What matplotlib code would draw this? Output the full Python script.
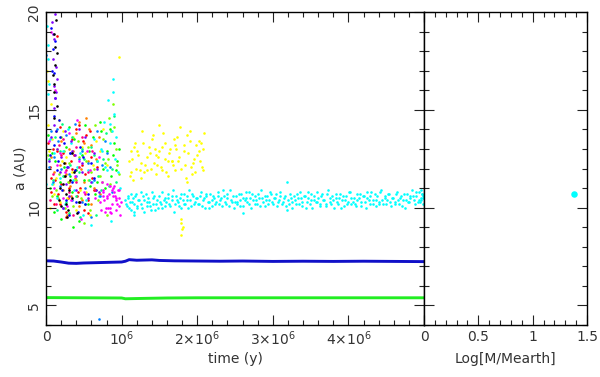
import matplotlib
matplotlib.use("Agg")
import matplotlib.pyplot as plt
from matplotlib.ticker import MultipleLocator, FixedLocator

# time in Myr, a in AU
blue_t = [0, 0.1, 0.2, 0.3, 0.4, 0.5, 0.6, 0.7, 0.8, 0.9, 1.0, 1.05, 1.1, 1.2, 1.3, 1.4, 1.5, 1.7,
          2.0, 2.3, 2.6, 3.0, 3.4, 3.8, 4.2, 4.6, 5.0]
blue_a = [7.28, 7.27, 7.22, 7.16, 7.15, 7.17, 7.18, 7.19, 7.2, 7.21, 7.22, 7.26, 7.34, 7.31, 7.32,
          7.33, 7.3, 7.28, 7.27, 7.26, 7.27, 7.25, 7.26, 7.25, 7.26, 7.25, 7.24]
green_t = [0, 0.5, 1.0, 1.05, 1.3, 1.6, 2.0, 3.0, 4.0, 5.0]
green_a = [5.40, 5.39, 5.38, 5.34, 5.36, 5.38, 5.39, 5.39, 5.39, 5.39]

band_t = [1.05, 1.07, 1.09, 1.11, 1.13, 1.15, 1.17, 1.19, 1.21, 1.23,
          1.26, 1.28, 1.30, 1.33, 1.35, 1.37, 1.40, 1.42, 1.44, 1.47,
          1.49, 1.52, 1.54, 1.57, 1.59, 1.62, 1.64, 1.67, 1.69, 1.72,
          1.74, 1.77, 1.79, 1.82, 1.84, 1.87, 1.89, 1.92, 1.94, 1.97,
          2.00, 2.02, 2.05, 2.07, 2.10, 2.12, 2.15, 2.17, 2.20, 2.22,
          2.25, 2.28, 2.30, 2.33, 2.35, 2.38, 2.40, 2.43, 2.46, 2.48,
          2.51, 2.53, 2.56, 2.58, 2.61, 2.64, 2.66, 2.69, 2.71, 2.74,
          2.77, 2.79, 2.82, 2.84, 2.87, 2.90, 2.92, 2.95, 2.97, 3.00,
          3.03, 3.05, 3.08, 3.10, 3.13, 3.16, 3.19, 3.21, 3.24, 3.26,
          3.29, 3.32, 3.34, 3.37, 3.39, 3.42, 3.45, 3.47, 3.50, 3.52,
          3.55, 3.58, 3.60, 3.63, 3.65, 3.68, 3.71, 3.73, 3.76, 3.78,
          3.81, 3.84, 3.86, 3.89, 3.91, 3.94, 3.97, 3.99, 4.02, 4.04,
          4.07, 4.10, 4.12, 4.15, 4.17, 4.20, 4.23, 4.25, 4.28, 4.30,
          4.33, 4.36, 4.38, 4.41, 4.43, 4.46, 4.49, 4.51, 4.54, 4.56,
          4.59, 4.62, 4.64, 4.67, 4.69, 4.72, 4.75, 4.77, 4.80, 4.82,
          4.85, 4.88, 4.90, 4.93, 4.95, 4.97, 4.99, 1.16, 2.61, 3.19,
          1.06, 1.08, 1.10, 1.12, 1.14, 1.16, 1.18, 1.20, 1.22, 1.25,
          1.27, 1.29, 1.32, 1.34, 1.36, 1.39, 1.41, 1.43, 1.46, 1.48,
          1.51, 1.53, 1.56, 1.58, 1.61, 1.63, 1.66, 1.68, 1.71, 1.73,
          1.76, 1.78, 1.81, 1.83, 1.86, 1.88, 1.91, 1.93, 1.96, 1.99,
          2.01, 2.04, 2.06, 2.09, 2.11, 2.14, 2.16, 2.19, 2.21, 2.24,
          2.27, 2.29, 2.32, 2.34, 2.37, 2.39, 2.42, 2.45, 2.47, 2.50,
          2.52, 2.55, 2.57, 2.60, 2.63, 2.65, 2.68, 2.70, 2.73, 2.76,
          2.78, 2.81, 2.83, 2.86, 2.89, 2.91, 2.94, 2.96, 2.99, 3.02,
          3.04, 3.07, 3.09, 3.12, 3.15, 3.17, 3.20, 3.23, 3.25, 3.28,
          3.31, 3.33, 3.36, 3.38, 3.41, 3.44, 3.46, 3.49, 3.51, 3.54,
          3.57, 3.59, 3.62, 3.64, 3.67, 3.70, 3.72, 3.75, 3.77, 3.80,
          3.83, 3.85, 3.88, 3.90, 3.93, 3.96, 3.98, 4.01, 4.03, 4.06,
          4.09, 4.11, 4.14, 4.16, 4.19, 4.22, 4.24, 4.27, 4.29, 4.32,
          4.35, 4.37, 4.40, 4.42, 4.45, 4.48, 4.50, 4.53, 4.55, 4.58,
          4.61, 4.63, 4.66, 4.68, 4.71, 4.74, 4.76, 4.79, 4.81, 4.84,
          4.87, 4.89, 4.92, 4.94, 4.96, 4.98, 4.985, 4.975, 4.965, 4.955]
band_a = [10.4, 10.1, 10.6, 10.3, 9.9, 10.5, 10.2, 10.7, 10.0, 10.4,
          10.2, 10.6, 9.8, 10.3, 10.5, 10.1, 10.8, 10.2, 9.9, 10.4,
          10.6, 10.2, 10.0, 10.5, 10.3, 10.7, 10.1, 10.4, 9.8, 10.6,
          10.3, 10.5, 10.0, 10.7, 10.2, 10.4, 10.9, 10.1, 10.6, 10.3,
          10.5, 10.2, 10.8, 10.4, 10.0, 10.6, 10.3, 10.7, 10.1, 10.5,
          10.3, 10.8, 10.4, 10.1, 10.6, 10.2, 10.5, 10.9, 10.3, 10.0,
          10.6, 10.2, 10.4, 10.7, 10.1, 10.5, 10.3, 10.8, 10.0, 10.4,
          10.6, 10.2, 10.5, 10.9, 10.3, 10.1, 10.6, 10.4, 10.7, 10.2,
          10.5, 10.1, 10.4, 10.8, 10.3, 10.6, 11.3, 10.2, 10.5, 10.0,
          10.4, 10.7, 10.2, 10.5, 10.1, 10.6, 10.3, 10.8, 10.4, 10.0,
          10.6, 10.3, 10.5, 10.1, 10.7, 10.4, 10.2, 10.9, 10.3, 10.6,
          10.0, 10.5, 10.2, 10.7, 10.4, 10.1, 10.6, 10.3, 10.8, 10.2,
          10.5, 10.1, 10.4, 10.7, 10.3, 10.6, 10.0, 10.5, 10.2, 10.8,
          10.4, 10.1, 10.6, 10.3, 10.9, 10.2, 10.5, 10.4, 10.7, 10.1,
          10.5, 10.3, 10.8, 10.2, 10.6, 10.4, 10.0, 10.7, 10.3, 10.5,
          10.6, 10.2, 10.8, 10.4, 10.3, 10.7, 10.5, 9.6, 9.7, 9.9,
          10.2, 10.5, 10.0, 10.7, 10.3, 9.8, 10.6, 10.1, 10.4, 10.8,
          10.0, 10.4, 10.7, 10.1, 10.3, 9.9, 10.5, 10.6, 10.2, 10.0,
          10.3, 10.8, 10.4, 10.1, 10.5, 10.2, 10.6, 10.9, 10.2, 10.4,
          10.1, 10.7, 10.4, 10.2, 10.6, 10.0, 10.4, 10.7, 10.2, 10.5,
          10.2, 10.6, 10.1, 10.5, 10.7, 10.3, 10.0, 10.4, 10.6, 10.2,
          10.6, 10.2, 10.5, 10.9, 10.3, 10.7, 10.1, 10.4, 10.6, 10.3,
          10.3, 10.7, 10.1, 10.5, 10.4, 10.8, 10.2, 10.5, 10.7, 10.2,
          10.4, 10.7, 10.1, 10.5, 10.6, 10.4, 10.2, 10.8, 10.3, 10.5,
          10.7, 10.3, 10.6, 10.2, 10.5, 10.1, 10.4, 10.7, 10.3, 10.6,
          10.2, 10.5, 10.8, 10.3, 10.6, 10.0, 10.5, 10.2, 10.7, 10.4,
          10.3, 10.8, 10.2, 10.6, 10.4, 10.1, 10.7, 10.5, 10.2, 10.4,
          10.7, 10.3, 10.5, 10.0, 10.6, 10.4, 10.2, 10.8, 10.5, 10.3,
          10.2, 10.7, 10.5, 10.1, 10.6, 10.3, 10.8, 10.4, 10.6, 10.2,
          10.7, 10.4, 10.2, 10.8, 10.4, 10.6, 10.2, 10.7, 10.3, 10.5,
          10.2, 10.7, 10.4, 10.5, 10.1, 10.7, 10.4, 10.3, 10.6, 10.9,
          10.4, 10.6, 10.3, 10.8, 10.5, 10.6, 10.2, 10.7, 10.4, 10.9]

ycl_t = [1.10, 1.13, 1.16, 1.19, 1.22, 1.25, 1.28, 1.31, 1.34, 1.37,
         1.40, 1.43, 1.46, 1.49, 1.52, 1.55, 1.58, 1.61, 1.64, 1.67,
         1.70, 1.73, 1.76, 1.79, 1.82, 1.85, 1.88, 1.91, 1.94, 1.97,
         2.00, 2.03, 2.06, 2.09, 1.12, 1.18, 1.24, 1.33, 1.41, 1.47,
         1.53, 1.59, 1.66, 1.72, 1.77, 1.84, 1.90, 1.96, 2.02, 2.07,
         1.79, 1.80, 1.78, 1.81, 1.79, 0.97, 1.15, 1.50, 1.87, 2.05,
         1.11, 1.14, 1.20, 1.26, 1.30, 1.36, 1.39, 1.44, 1.48, 1.54,
         1.57, 1.63, 1.68, 1.71, 1.75, 1.83, 1.86, 1.92, 1.98, 2.04,
         2.08, 1.27, 1.45, 1.62, 1.69, 1.93]
ycl_a = [12.4, 11.8, 13.1, 12.0, 12.7, 11.5, 13.3, 12.2, 11.9, 12.8,
         13.5, 12.3, 11.7, 12.9, 12.1, 13.8, 12.5, 11.6, 13.0, 12.4,
         11.9, 13.6, 12.6, 12.0, 13.2, 11.5, 12.8, 13.9, 12.3, 11.8,
         12.7, 13.4, 12.1, 13.8, 12.9, 13.3, 11.9, 12.6, 13.7, 12.2,
         13.1, 11.8, 12.4, 13.0, 14.1, 12.2, 13.4, 12.5, 12.9, 11.9,
         9.2, 8.9, 8.6, 9.0, 9.4, 17.7, 11.4, 14.2, 11.3, 13.3,
         11.6, 12.5, 12.9, 12.3, 11.8, 13.1, 12.0, 13.0, 12.6, 11.9,
         13.3, 12.8, 12.2, 13.2, 12.4, 12.9, 13.7, 12.1, 13.2, 12.4,
         13.0, 13.9, 12.7, 12.4, 13.5, 11.7]

red_t = [0.05, 0.12, 0.18, 0.22, 0.3, 0.35, 0.41, 0.47, 0.52, 0.58, 0.63, 0.09, 0.15, 0.27, 0.38, 0.44,
         0.55, 0.6, 0.33, 0.2, 0.07, 0.5,
         0.03, 0.14, 0.24, 0.29, 0.37, 0.45, 0.49, 0.56, 0.61, 0.68, 0.11, 0.19, 0.26, 0.34, 0.42, 0.53,
         0.07, 0.31, 0.4, 0.16]
red_a = [12.1, 11.4, 10.2, 12.8, 11.0, 13.5, 10.6, 12.2, 11.7, 13.9, 10.9, 13.0, 18.8, 9.8, 11.9, 14.2,
         10.4, 12.6, 12.4, 11.2, 10.8, 9.9,
         13.3, 12.9, 11.6, 10.5, 12.7, 11.0, 13.4, 9.7, 11.5, 12.1, 10.2, 14.1, 9.5, 12.0, 10.8, 13.7,
         11.5, 11.3, 14.0, 10.7]
orange_t = [0.1, 0.16, 0.25, 0.32, 0.4, 0.46, 0.53, 0.6, 0.66, 0.72, 0.28, 0.36, 0.5, 0.57, 0.2, 0.43,
            0.06, 0.13, 0.22, 0.3, 0.38, 0.48, 0.55, 0.63, 0.7, 0.18, 0.33, 0.44, 0.59, 0.26, 0.5]
orange_a = [11.8, 10.5, 12.3, 11.1, 13.8, 12.0, 14.6, 13.2, 12.5, 10.7, 9.6, 12.9, 11.3, 14.0, 13.4, 10.1,
            12.6, 13.9, 10.9, 13.0, 11.5, 10.4, 12.4, 11.0, 13.6, 12.2, 10.6, 14.4, 10.2, 11.7, 13.3]
yellow_t = [0.02, 0.04, 0.08, 0.13, 0.19, 0.26, 0.31, 0.37, 0.45, 0.51, 0.03, 0.06, 0.23, 0.34, 0.48,
            0.62, 0.7, 0.76, 0.01, 0.11,
            0.09, 0.15, 0.21, 0.28, 0.36, 0.42, 0.55, 0.58, 0.66, 0.72, 0.8, 0.05, 0.17, 0.39, 0.53]
yellow_a = [14.2, 12.9, 13.5, 11.5, 10.3, 12.6, 9.7, 11.4, 10.9, 12.8, 16.5, 15.3, 13.9, 11.8, 13.1,
            12.2, 11.6, 14.0, 17.0, 10.7,
            11.2, 13.0, 12.4, 10.5, 13.6, 12.1, 11.4, 9.6, 13.4, 12.9, 12.2, 10.0, 14.5, 9.9, 10.8]
lime_t = [0.05, 0.12, 0.2, 0.27, 0.34, 0.4, 0.47, 0.55, 0.62, 0.68, 0.75, 0.81, 0.86, 0.9, 0.15, 0.3,
          0.44, 0.58, 0.71, 0.94, 0.02,
          0.08, 0.18, 0.24, 0.32, 0.37, 0.43, 0.5, 0.57, 0.65, 0.73, 0.78, 0.84, 0.88, 0.92, 0.96, 0.1,
          0.36, 0.52, 0.67]
lime_a = [11.0, 12.4, 9.4, 13.1, 10.8, 11.9, 12.7, 10.2, 13.6, 11.3, 12.0, 12.9, 11.6, 13.3, 10.6, 14.1,
          9.3, 11.1, 14.4, 12.4, 13.7,
          12.8, 11.3, 12.1, 11.6, 13.5, 10.3, 11.4, 12.9, 10.7, 13.9, 11.0, 14.0, 12.7, 11.9, 13.0, 9.8,
          9.0, 14.2, 12.4]
chart_t = [0.08, 0.17, 0.24, 0.36, 0.42, 0.5, 0.6, 0.69, 0.78, 0.83, 0.88, 0.92, 0.85, 0.8, 0.65, 0.29,
           0.53, 0.96,
           0.03, 0.13, 0.2, 0.31, 0.39, 0.46, 0.56, 0.63, 0.72, 0.76, 0.86, 0.9, 0.94, 0.82, 0.74, 0.58,
           0.44, 0.25]
chart_a = [10.6, 11.7, 12.9, 10.1, 13.4, 9.2, 11.8, 10.4, 12.3, 14.6, 15.3, 13.0, 11.2, 9.6, 14.2, 11.3,
           12.4, 11.7,
           12.7, 10.9, 13.6, 12.3, 11.4, 10.5, 13.1, 12.0, 11.6, 13.5, 13.9, 14.1, 12.2, 12.5, 11.3, 9.9,
           12.6, 10.0]
spring_t = [0.04, 0.14, 0.23, 0.32, 0.39, 0.48, 0.57, 0.64, 0.73, 0.79, 0.87, 0.93, 0.21, 0.45,
            0.09, 0.18, 0.27, 0.35, 0.43, 0.52, 0.6, 0.69, 0.76, 0.83, 0.9, 0.12, 0.3, 0.5, 0.66]
spring_a = [12.5, 9.9, 11.6, 12.2, 10.6, 13.0, 11.4, 12.7, 10.9, 13.8, 12.0, 11.3, 14.3, 9.5,
            11.4, 12.9, 10.3, 13.6, 11.8, 10.2, 13.1, 11.6, 12.5, 11.1, 14.7, 13.6, 9.7, 12.5, 9.6]
cyan_t = [0.01, 0.03, 0.1, 0.18, 0.25, 0.33, 0.41, 0.49, 0.56, 0.64, 0.7, 0.77, 0.84, 0.9, 0.95, 0.88,
          0.82, 0.91, 0.6, 0.37, 0.02, 0.0, 0.86, 0.74,
          0.05, 0.08, 0.14, 0.22, 0.29, 0.36, 0.45, 0.53, 0.61, 0.67, 0.73, 0.8, 0.87, 0.93, 0.02, 0.04,
          0.98, 0.89, 0.85, 0.78]
cyan_a = [19.3, 17.6, 12.8, 11.5, 10.2, 13.3, 12.1, 9.6, 11.9, 13.5, 10.6, 14.4, 13.3, 14.8, 11.8, 16.6,
          15.5, 12.5, 9.1, 10.9, 15.8, 11.2, 9.3, 12.9,
          13.5, 11.2, 10.5, 12.9, 14.0, 11.4, 12.8, 10.4, 11.3, 12.4, 13.0, 11.9, 13.9, 13.6, 18.3, 16.3,
          11.0, 15.9, 14.3, 12.1]
sky_t = [0.06, 0.11, 0.19, 0.26, 0.35, 0.43, 0.52, 0.59, 0.67, 0.74, 0.81, 0.87, 0.14, 0.3, 0.47, 0.7, 0.0,
         0.04, 0.09, 0.16, 0.23, 0.32, 0.4, 0.48, 0.55, 0.63, 0.71, 0.78, 0.84, 0.2, 0.38]
sky_a = [13.9, 12.6, 11.1, 13.7, 10.4, 12.5, 11.0, 9.5, 13.9, 12.2, 12.8, 10.8, 14.0, 11.7, 12.9, 4.3, 17.8,
         12.1, 11.3, 13.4, 10.0, 12.8, 11.6, 10.3, 12.3, 11.4, 10.6, 13.4, 12.1, 12.0, 14.3]
bl_t = [0.07, 0.09, 0.13, 0.1, 0.16, 0.21, 0.28, 0.35, 0.42, 0.49, 0.56, 0.63, 0.12, 0.11, 0.24, 0.39,
        0.05, 0.14, 0.19, 0.26, 0.32, 0.38, 0.45, 0.52, 0.59, 0.66, 0.1, 0.12, 0.08, 0.17, 0.3]
bl_a = [19.2, 18.1, 13.9, 14.7, 12.4, 10.9, 12.1, 11.3, 9.8, 12.6, 10.7, 11.5, 18.5, 13.2, 13.3, 10.3,
        12.7, 11.9, 13.6, 10.4, 12.8, 11.9, 13.1, 10.2, 12.3, 10.9, 16.9, 15.6, 17.0, 14.5, 9.6]
purple_t = [0.08, 0.11, 0.13, 0.1, 0.12, 0.09, 0.14, 0.11, 0.18, 0.25, 0.31, 0.38, 0.45, 0.52, 0.6, 0.67,
            0.22, 0.34, 0.48, 0.06,
            0.04, 0.1, 0.15, 0.2, 0.27, 0.33, 0.4, 0.47, 0.55, 0.63, 0.7, 0.12, 0.09, 0.13, 0.29, 0.43]
purple_a = [19.5, 18.6, 17.2, 16.2, 15.6, 17.6, 16.6, 15.1, 11.8, 13.9, 10.6, 12.7, 10.3, 13.6, 11.3, 12.0,
            10.0, 12.9, 11.8, 13.6,
            12.4, 14.2, 13.0, 12.6, 11.2, 13.4, 10.9, 12.3, 10.5, 12.8, 10.8, 19.9, 18.9, 15.9, 12.1, 14.0]
mag_t = [0.07, 0.14, 0.22, 0.3, 0.38, 0.46, 0.54, 0.12, 0.28, 0.41, 0.72, 0.75, 0.78, 0.81, 0.84, 0.87,
         0.9, 0.93, 0.96, 0.99, 0.74, 0.79, 0.83, 0.88, 0.92, 0.95, 0.77, 0.86, 0.8, 0.97, 0.73, 0.91,
         0.85, 0.76, 0.94,
         0.04, 0.1, 0.18, 0.25, 0.33, 0.43, 0.5, 0.58, 0.65, 0.7, 0.82, 0.89, 0.96, 0.98, 0.75, 0.87,
         0.93, 0.8, 0.84, 0.9]
mag_a = [19.0, 12.2, 10.5, 13.8, 11.6, 9.4, 12.9, 16.0, 10.1, 14.5, 10.3, 10.9, 9.8, 10.6, 11.1, 10.2,
         10.8, 9.9, 10.5, 10.3, 11.3, 10.0, 10.7, 11.0, 10.4, 10.9, 10.4, 9.7, 11.2, 10.1, 9.9, 10.6,
         10.0, 10.8, 10.2,
         13.4, 11.0, 12.8, 11.8, 10.4, 12.4, 10.8, 11.9, 10.5, 12.6, 10.0, 10.6, 10.9, 9.6, 10.6, 10.9,
         10.5, 10.5, 9.8, 11.1]
pink_t = [0.05, 0.17, 0.27, 0.36, 0.44, 0.51, 0.61, 0.2, 0.4, 0.09, 0.13, 0.23, 0.31, 0.39, 0.48, 0.56, 0.65]
pink_a = [10.4, 13.2, 11.9, 9.6, 12.1, 10.7, 12.9, 12.7, 13.1, 11.7, 10.2, 13.5, 10.8, 11.3, 13.6, 11.8, 10.9]
black_t = [0.1, 0.12, 0.09, 0.11, 0.13, 0.1, 0.12, 0.2, 0.26, 0.29, 0.32, 0.24, 0.35, 0.41, 0.19, 0.15,
           0.17, 0.22, 0.27, 0.31, 0.37, 0.43, 0.28, 0.34, 0.11, 0.14, 0.25]
black_a = [18.9, 17.3, 16.8, 15.9, 19.6, 14.6, 18.2, 10.1, 10.7, 9.9, 11.4, 12.3, 10.5, 9.7, 11.0, 15.2,
           10.4, 11.2, 10.2, 10.9, 11.8, 10.3, 9.5, 12.8, 16.3, 17.9, 11.6]

planet_logm = [1.38]
planet_a = [10.7]

cloud = [
    (band_t, band_a, "#00ffff"), (ycl_t, ycl_a, "#ffff00"),
    (red_t, red_a, "#ff0000"), (orange_t, orange_a, "#ff8000"), (yellow_t, yellow_a, "#ffff00"),
    (lime_t, lime_a, "#00ff00"), (chart_t, chart_a, "#80ff00"), (spring_t, spring_a, "#00ff80"),
    (cyan_t, cyan_a, "#00ffff"), (sky_t, sky_a, "#0080ff"), (bl_t, bl_a, "#0000ff"),
    (purple_t, purple_a, "#8000ff"), (mag_t, mag_a, "#ff00ff"), (pink_t, pink_a, "#ff0080"),
    (black_t, black_a, "#000000"),
]

plt.rcParams["font.family"] = "DejaVu Sans"
fig = plt.figure(figsize=(6, 3.77), dpi=100)
ax = fig.add_axes([0.0767, 0.138, 0.63, 0.830])
ax2 = fig.add_axes([0.7067, 0.138, 0.2716, 0.830])

ax.plot([t * 1e6 for t in blue_t], blue_a, color="#1010c8", lw=2.1, solid_capstyle="butt")
ax.plot([t * 1e6 for t in green_t], green_a, color="#22ee22", lw=2.1, solid_capstyle="butt")
for ts, as_, c in cloud:
    ax.scatter([t * 1e6 for t in ts], as_, s=3.5, color=c, lw=0)

ax2.scatter(planet_logm, planet_a, s=22, color="#00ffff", lw=0)

txt = "#333333"
ax.set_xlim(0, 5e6)
ax.set_ylim(4, 20)
ax.xaxis.set_major_locator(FixedLocator([0, 1e6, 2e6, 3e6, 4e6, 5e6]))
ax.set_xticklabels(["0", r"$10^6$", r"$2{\times}10^6$", r"$3{\times}10^6$", r"$4{\times}10^6$", ""])
ax.xaxis.set_minor_locator(MultipleLocator(2e5))
ax.yaxis.set_major_locator(MultipleLocator(5))
ax.yaxis.set_minor_locator(MultipleLocator(1))
for lab in ax.get_yticklabels():
    lab.set_rotation(90)
    lab.set_va("center")
ax.set_xlabel("time (y)", color=txt, fontsize=10)
ax.xaxis.set_label_coords(0.5, -0.085)
ax.set_ylabel("a (AU)", color=txt, fontsize=10)
ax.yaxis.set_label_coords(-0.05, 0.5)

ax2.set_xlim(0, 1.5)
ax2.set_ylim(4, 20)
ax2.xaxis.set_major_locator(FixedLocator([0, 0.5, 1, 1.5]))
ax2.set_xticklabels(["0", "0.5", "1", "1.5"])
ax2.xaxis.set_minor_locator(MultipleLocator(0.1))
ax2.yaxis.set_major_locator(MultipleLocator(5))
ax2.yaxis.set_minor_locator(MultipleLocator(1))
ax2.set_yticklabels([])
ax2.set_xlabel("Log[M/Mearth]", color=txt, fontsize=10)
ax2.xaxis.set_label_coords(0.5, -0.085)

for a in (ax, ax2):
    a.tick_params(which="both", direction="in", top=True, right=True, colors="#222222",
                  labelcolor=txt, labelsize=10)
    a.tick_params(which="major", length=7, width=0.8)
    a.tick_params(which="minor", length=3.5, width=0.8)
    for sp in a.spines.values():
        sp.set_linewidth(1.0)

fig.savefig("out.png", dpi=100)
